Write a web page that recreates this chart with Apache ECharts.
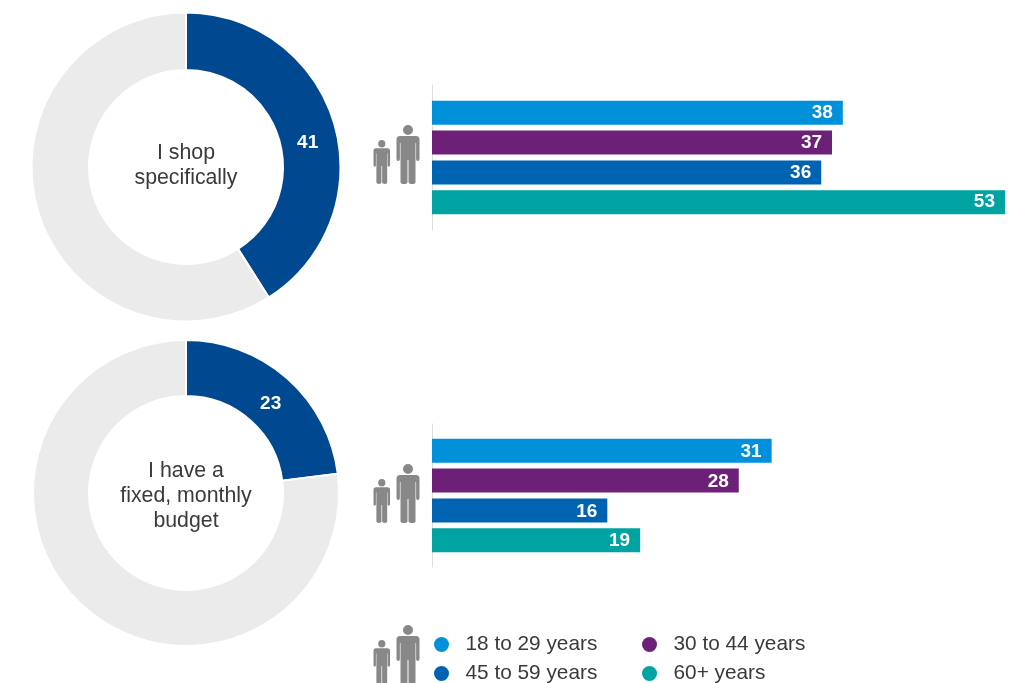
<!DOCTYPE html>
<html>
<head>
<meta charset="utf-8">
<style>html,body{margin:0;padding:0;background:#fff}#c{width:1027px;height:683px}</style>
<script src="https://cdn.jsdelivr.net/npm/echarts@6/dist/echarts.min.js"></script>
</head>
<body>
<div id="c"></div>
<script>
var ageGroups = ['18 to 29 years', '30 to 44 years', '45 to 59 years', '60+ years'];
var ageColors = ['#0091DA', '#6D2077', '#0063B1', '#00A3A1'];
var shopValues = [38, 37, 36, 53];
var budgetValues = [31, 28, 16, 19];
var shopShare = [41, 59];
var budgetShare = [23, 77];
var shopTitle = 'I shop\nspecifically';
var budgetTitle = 'I have a\nfixed, monthly\nbudget';

var FONT = '"Liberation Sans", Arial, sans-serif';
var PERSON = 'M6.5,5 A5,5 0 1,1 16.5,5 A5,5 0 1,1 6.5,5 Z ' +
  'M3.5,11 H19.5 Q23,11 23,14.5 V34 Q23,36 21.3,36 Q19.6,36 19.6,34 V18 H19 V57 Q19,59 16,59 Q12,59 12,57 V35 H11 V57 Q11,59 7.5,59 Q4,59 4,57 V18 H3.4 V34 Q3.4,36 1.7,36 Q0,36 0,34 V14.5 Q0,11 3.5,11 Z';
echarts.graphic.registerShape('person', echarts.graphic.extendPath(PERSON, {}));

function people(bottom) {
  return [
    {type: 'person', x: 396.5, y: bottom - 59, style: {fill: '#888888'}, silent: true},
    {type: 'person', x: 373.5, y: bottom - 44, scaleX: 0.72, scaleY: 0.746, style: {fill: '#888888'}, silent: true}
  ];
}
function donut(values, center, radius) {
  return {
    type: 'pie', center: center, radius: radius, startAngle: 90, clockwise: true,
    silent: true, animation: false,
    itemStyle: {borderColor: '#fff', borderWidth: 2},
    labelLine: {show: false},
    data: [
      {value: values[0], itemStyle: {color: '#004990'},
       label: {show: true, position: 'inside', color: '#fff', fontFamily: FONT, fontWeight: 'bold', fontSize: 19, formatter: '{c}'}},
      {value: values[1], itemStyle: {color: '#EBEBEB'}, label: {show: false}}
    ]
  };
}
function bars(values, idx, labelDy) {
  return values.map(function (v, i) {
    return {
      type: 'bar', name: ageGroups[i], xAxisIndex: idx, yAxisIndex: idx,
      data: [v], barWidth: 24, barGap: '24%', animation: false,
      itemStyle: {color: ageColors[i]},
      label: {show: true, position: 'insideRight', distance: 10, offset: [0, labelDy], color: '#fff', fontFamily: FONT, fontWeight: 'bold', fontSize: 19}
    };
  });
}
function centerTitle(text, x, y) {
  return {type: 'text', x: x, y: y, silent: true,
    style: {text: text, align: 'center', verticalAlign: 'middle', fill: '#3a3a3a', font: '21.3px ' + FONT, lineHeight: 25}};
}

var shopDonut = donut(shopShare, [186, 167], [97, 154.5]);
shopDonut.labelLayout = {dx: -2, dy: 12};
var budgetDonut = donut(budgetShare, [186, 493], [97, 153]);
budgetDonut.labelLayout = {dx: 0, dy: 7};

var chart = echarts.init(document.getElementById('c'), null, {renderer: 'canvas'});
var legendBase = {orient: 'vertical', top: 634, height: 70, itemWidth: 16, itemHeight: 15, itemGap: 8, icon: 'circle',
  selectedMode: false, padding: 0,
  textStyle: {color: '#3a3a3a', fontFamily: FONT, fontSize: 20.8, padding: [0, 0, 0, 11]}};
chart.setOption({
  animation: false,
  backgroundColor: '#fff',
  legend: [
    Object.assign({left: 434, data: [ageGroups[0], ageGroups[2]]}, legendBase),
    Object.assign({left: 642, data: [ageGroups[1], ageGroups[3]]}, legendBase)
  ],
  grid: [
    {left: 432, width: 573, top: 85, height: 145},
    {left: 432, width: 573, top: 424, height: 143}
  ],
  xAxis: [
    {gridIndex: 0, type: 'value', min: 0, max: 53, show: false},
    {gridIndex: 1, type: 'value', min: 0, max: 52.3, show: false}
  ],
  yAxis: [0, 1].map(function (g) {
    return {gridIndex: g, type: 'category', data: [''], inverse: true,
      axisTick: {show: false}, axisLabel: {show: false},
      axisLine: {show: true, lineStyle: {color: '#DDDDDD', width: 1}}, splitLine: {show: false}};
  }),
  series: [shopDonut, budgetDonut].concat(bars(shopValues, 0, 0), bars(budgetValues, 1, 1)),
  graphic: {elements: [
    centerTitle(shopTitle, 186, 166),
    centerTitle(budgetTitle, 186, 496)
  ].concat(people(184), people(523), people(684))}
});
</script>
</body>
</html>
